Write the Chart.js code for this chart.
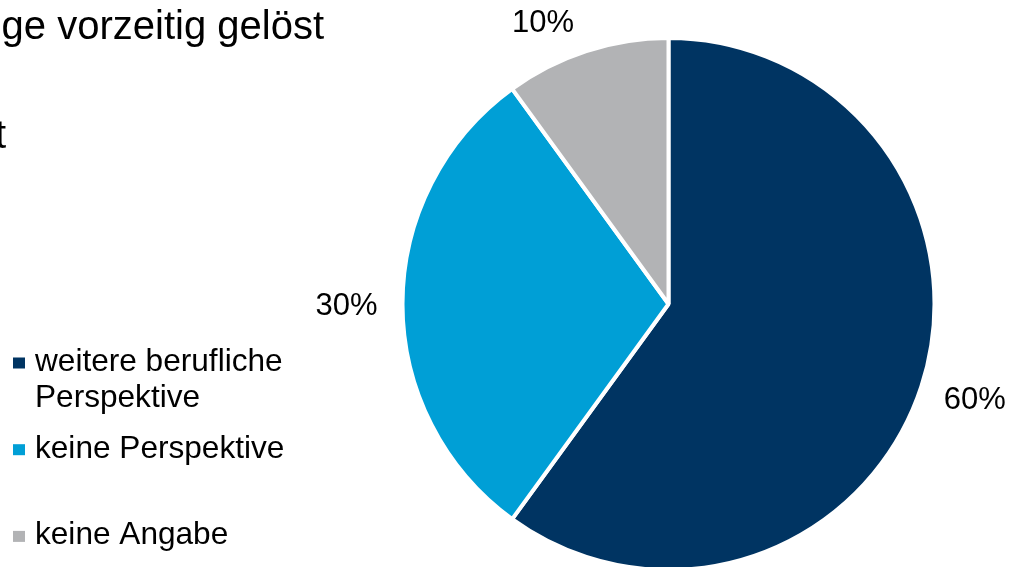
<!DOCTYPE html>
<html lang="de">
<head>
    <meta charset="UTF-8">
    <script src="https://cdn.jsdelivr.net/npm/chart.js"></script>
    <title>Gründe</title>
    <style>
        body { margin: 0; background: #ffffff; }
        #box { width: 1024px; height: 567px; position: relative; }
    </style>
</head>
<body>
    <div id="box">
        <canvas id="myPie"></canvas>
    </div>
    <script>
        // data
        const categories = [['weitere berufliche', 'Perspektive'], 'keine Perspektive', 'keine Angabe'];
        const shares = [60, 30, 10];
        const sliceColors = ['#003462', '#009fd6', '#b2b3b5'];
        const titleLines = ['ge vorzeitig gelöst', 't'];

        // labels outside the pie
        const pieLabels = {
            id: 'pieLabels',
            afterDatasetsDraw(chart, args, opts) {
                const ctx = chart.ctx;
                const meta = chart.getDatasetMeta(0);
                const vals = chart.data.datasets[0].data;
                ctx.save();
                ctx.fillStyle = '#000';
                ctx.font = '31px "Liberation Sans", Arial, sans-serif';
                ctx.textBaseline = 'alphabetic';
                ctx.textAlign = 'center';
                meta.data.forEach(function (arc, i) {
                    const p = arc.getProps(['x', 'y', 'startAngle', 'endAngle', 'outerRadius'], true);
                    const mid = (p.startAngle + p.endAngle) / 2;
                    const dx = Math.cos(mid), dy = Math.sin(mid);
                    const txt = vals[i] + '%';
                    const hw = ctx.measureText(txt).width / 2;
                    const r = p.outerRadius - 2 + opts.gap;
                    const nudge = opts.nudge[i] || [0, 0];
                    const cx = p.x + dx * (r + hw) + nudge[0];
                    const cy = p.y + dy * (r + 12) + nudge[1];
                    ctx.fillText(txt, cx, cy + 11);
                });
                ctx.restore();
            }
        };

        // legend on the left and the cut off title
        const sideLegend = {
            id: 'sideLegend',
            afterDraw(chart, args, opts) {
                const ctx = chart.ctx;
                const ds = chart.data.datasets[0];
                ctx.save();
                ctx.font = '31.6px "Liberation Sans", Arial, sans-serif';
                ctx.textBaseline = 'alphabetic';
                ctx.textAlign = 'left';
                chart.data.labels.forEach(function (lab, i) {
                    const base = opts.top + i * opts.step;
                    ctx.fillStyle = ds.backgroundColor[i];
                    ctx.fillRect(opts.x, base - 8 - 5.5, 12, 11);
                    ctx.fillStyle = '#000';
                    const lines = Array.isArray(lab) ? lab : [lab];
                    lines.forEach(function (ln, j) {
                        ctx.fillText(ln, opts.textX, base + j * opts.lineH);
                    });
                });
                ctx.font = '40px "Liberation Sans", Arial, sans-serif';
                ctx.textAlign = 'right';
                ctx.fillText(titleLines[0], 324, 39);
                ctx.textAlign = 'left';
                ctx.fillText(titleLines[1], -5, 148);
                ctx.restore();
            }
        };

        const data = {
            labels: categories,
            datasets: [{
                data: shares,
                backgroundColor: sliceColors,
                borderColor: '#ffffff',
                borderWidth: 4,
                radius: 266
            }]
        };

        const config = {
            type: 'pie',
            data: data,
            options: {
                responsive: true,
                maintainAspectRatio: false,
                animation: false,
                layout: {
                    padding: { left: 313, right: 0, top: 41, bottom: 0 }
                },
                plugins: {
                    legend: { display: false },
                    tooltip: { enabled: false },
                    pieLabels: { gap: 27, nudge: [[0, 0], [0, 0], [-26, 5]] },
                    sideLegend: { x: 13, textX: 35, top: 371, step: 86.7, lineH: 36 }
                }
            },
            plugins: [pieLabels, sideLegend]
        };

        const myChart = new Chart(document.getElementById('myPie'), config);
    </script>
</body>
</html>
